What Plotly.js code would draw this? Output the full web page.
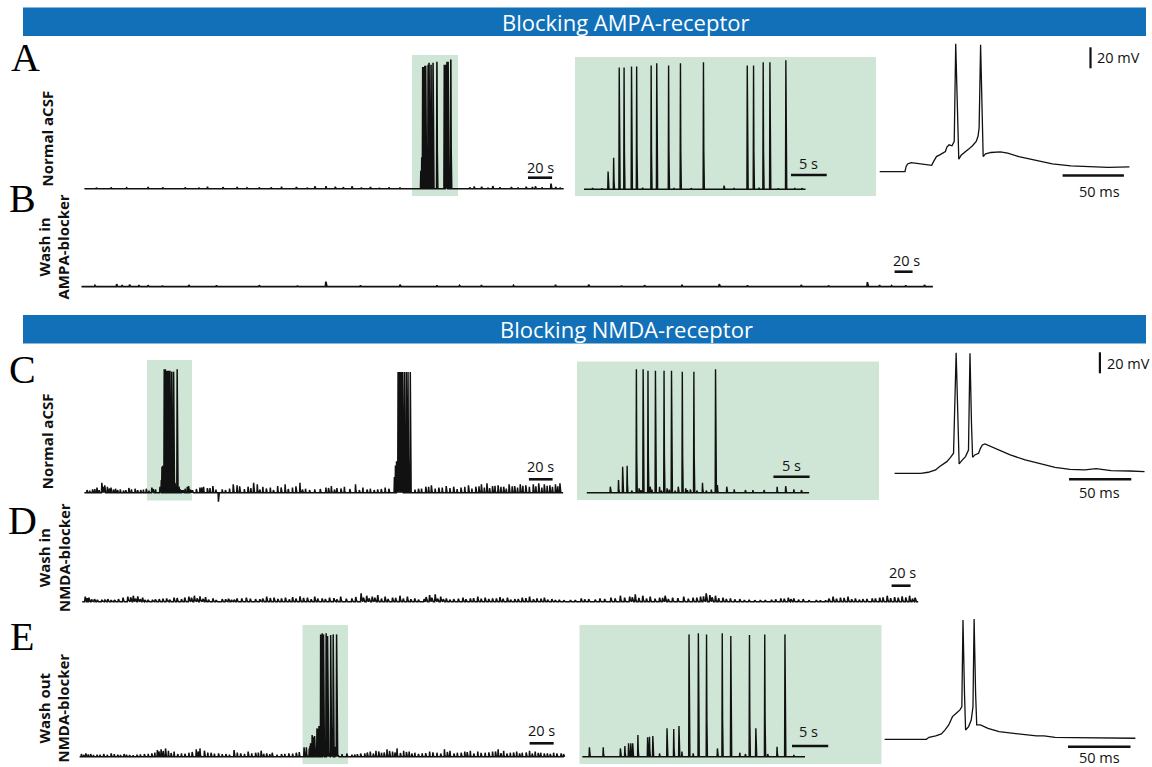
<!DOCTYPE html>
<html><head><meta charset="utf-8">
<script src="https://cdn.plot.ly/plotly-3.0.1.min.js"></script>
<style>html,body{margin:0;padding:0;background:#fff}#chart{width:1152px;height:767px}</style>
</head><body><div id="chart"></div>
<script>
// ---------- DATA (time in s or ms, deflection amplitude in mV from rest) ----------
const restMV = -65;
// A: normal aCSF, zoomed burst (inset, s) and amplitudes (mV)
const burstA_t = [3.37, 4.15, 4.93, 5.61, 6.65, 7.37, 9.40, 10.18, 11.84, 13.50, 16.72, 22.85, 23.73, 25.08, 26.02, 28.25];
const burstA_a = [17, 30, 116, 116, 117, 117, 118, 120, 118, 120, 121, 118, 118, 121, 121, 123];
const noiseAi_t = [1.2, 2.5, 8.2, 12.6, 15.0, 19.6, 21.0, 24.5, 27.2, 29.5, 30.5];
const noiseAi_a = [1.2, 1.0, 1.5, 1.2, 1.0, 3.5, 1.2, 1.5, 1.0, 1.2, 1.0];
const burstA_offset = 276;          // burst position in long recording (s)
const noiseA_t = [22.2, 52.9, 83.7, 102.2, 126.8, 145.2, 163.7, 176, 191.4, 200.6, 208.3, 222.2, 237.5, 252.9, 323.7, 329.8, 339.1, 354.5, 366.8, 374.5, 387.4, 391.4];
const noiseA_a = [1.3, 1.6, 1.3, 1.9, 1.6, 1.3, 1.9, 1.6, 2.2, 2.5, 1.9, 2.2, 1.6, 1.3, 2.2, 1.9, 2.5, 1.6, 1.9, 2.2, 4.8, 1.6];
const noiseA2_t = [10, 35, 65, 95, 115, 135, 155, 185, 215, 230, 245, 262, 320, 335, 345, 360, 372, 380, 395];
const noiseA2_a = [1.0, 0.8, 1.2, 1.0, 1.4, 0.8, 1.2, 1.0, 1.5, 1.2, 0.9, 1.1, 1.3, 1.0, 1.4, 1.2, 1.6, 1.3, 1.0];
const apA_t = [0, 20.6, 21.5, 22.7, 25.7, 30.3, 34.8, 42.4, 43.9, 46.3, 49.0, 51.5, 53.6, 54.8, 56.6, 59.0, 60.8, 62.0, 63.3, 64.5, 66.6, 69.6, 72.6, 75.7, 78.7, 80.2, 81.1, 82.3, 83.5, 84.4, 86.3, 90.8, 98.4, 104.4, 113.5, 125.6, 140.8, 155.9, 171.0, 186.2, 203.7];
const apA_v = [-65, -65, -60.2, -57.6, -56.3, -57, -57.9, -58.9, -55.4, -50.6, -49, -47.4, -45.8, -41.6, -39.4, -40.3, -36.1, 56.8, -2.5, -53.1, -49, -45.8, -43.5, -40.3, -36.1, -31.3, -23.3, 55.9, -2.5, -50.6, -48, -46.7, -46.1, -47.4, -50.6, -53.8, -57.6, -59.5, -60.5, -60.8, -60.5];
// B: wash in AMPA blocker
const noiseB_t = [39.1, 45.2, 53.4, 63.8, 74, 119.3, 197.5, 271.5, 353.9, 395, 444.4, 526.7, 563.5, 625.6, 667.2, 708.6, 799.7, 873.2, 886.8, 915.8, 936.6];
const noiseB_a = [2.5, 1.6, 1.9, 1.6, 1.3, 1.6, 1.3, 4.8, 1.9, 1.3, 1.6, 1.9, 1.9, 1.3, 1.9, 2.5, 1.6, 4.4, 1.6, 1.3, 1.6];
const noiseB2_t = [15, 90, 150, 240, 310, 420, 480, 600, 740, 830, 900];
const noiseB2_a = [1.2, 1.0, 1.3, 1.0, 1.4, 1.1, 1.2, 1.0, 1.3, 1.2, 1.0];
// C: normal aCSF (NMDA experiment)
const burstC_t = [3.25, 4.38, 4.95, 5.57, 6.2, 6.85, 7.22, 7.5, 7.78, 8.45, 8.76, 9.0, 9.48, 10.05, 10.3, 10.67, 11.08, 11.4, 11.70, 12.2, 12.63, 13.19, 13.66, 13.9, 14.3, 14.79, 15.2, 15.98, 16.5, 17.2, 17.78, 18.04, 19.33, 20.36, 21.9, 22.94, 24.48, 26.29, 27.47, 28.6, 29.64];
const burstC_a = [5.7, 12.1, 24.8, 25.7, 2, 117.5, 4.1, 2.5, 117.5, 116.2, 5.7, 3, 116.2, 5.7, 2, 116.2, 4.1, 3, 116.2, 2, 5.7, 115.3, 4.1, 2.5, 3, 115.3, 2, 9.5, 2, 3, 117.5, 7.3, 5.7, 3.2, 2.5, 2.5, 2.5, 5.7, 6.3, 3.2, 2.5];
const burstC_offset = 60.5;
const burst2C_t = [261.6, 262.5, 263.4, 264.7, 265.9, 267.2, 268.4, 270.0, 271.6, 273.1, 275.0];
const burst2C_a = [15, 26, 30, 115, 115, 115, 115, 115, 115, 115, 115];
const noiseC_t = [2.2, 6.9, 10.6, 14.7, 17.2, 19.4, 22.5, 26.3, 30.3, 35, 39.7, 42.8, 47.5, 52.2, 56.9, 60, 85, 91.3, 97.5, 100.6, 103.8, 108.4, 113.1, 116.3, 125.6, 128.8, 138.1, 142.8, 145.9, 150.6, 156.9, 163.1, 169.4, 175.6, 181.9, 186.6, 194.4, 203.8, 208.4, 213.1, 219.4, 228.8, 235, 241.3, 247.5, 253.8, 256.9, 281.9, 288.1, 292.8, 299.1, 305.3, 311.6, 317.8, 324.1, 330.3, 335, 339.7, 344.4, 349.1, 353.8, 358.4, 363.1, 367.8, 372.5, 378.8, 383.4, 388.1, 392.8, 397.5, 401.3];
const noiseC_a = [2.5, 3.2, 4.8, 9.5, 7, 5.7, 4.8, 3.8, 3.2, 2.5, 3.2, 3.8, 2.5, 3.8, 4.8, 3.2, 3.8, 2.5, 4.8, 5.7, 4.4, 6.3, -8.6, 3.2, 7.9, 7, 5.7, 9.5, 7.9, 5.7, 4.8, 6.3, 7.9, 4.8, 9.5, 3.8, 3.2, 4.8, 6.3, 4.4, 5.7, 7.9, 4.8, 3.8, 3.2, 4.8, 3.8, 3.8, 5.7, 7, 4.8, 6.3, 5.7, 4.8, 7, 5.7, 7.9, 8.9, 6.3, 7, 5.7, 7.9, 6.3, 7.9, 7, 7.9, 8.9, 7.9, 7, 7.9, 8.9];
const noiseC2_t = [4.5, 8.8, 12.5, 16, 21, 24.5, 28, 33, 37.5, 45, 49.8, 54.5, 58, 88, 94.5, 99, 106, 111, 119, 122.5, 131, 135, 140.5, 148, 153.5, 159.5, 166, 172, 178.5, 184, 190, 199, 206, 211, 216.5, 224, 232, 238.5, 244.5, 250.5, 279, 284.5, 290.5, 296, 302, 308.5, 314.5, 321, 327, 333, 337.5, 342, 346.5, 351.5, 356, 361, 365.5, 370, 375.5, 381, 386, 390.5, 395, 399.5];
const noiseC2_a = [2.0, 3.5, 2.5, 5.5, 4.0, 3.0, 2.5, 2.0, 4.5, 2.5, 3.0, 2.0, 3.5, 2.5, 3.5, 5.0, 4.5, 3.0, 2.5, 4.0, 6.0, 3.5, 4.5, 3.0, 4.0, 2.5, 5.0, 3.5, 6.0, 3.0, 2.5, 3.5, 4.5, 3.0, 4.0, 3.5, 2.5, 3.0, 2.5, 3.5, 3.0, 4.0, 5.5, 4.0, 5.0, 4.5, 3.5, 5.5, 4.0, 6.0, 5.0, 4.5, 6.5, 5.5, 4.0, 6.0, 5.0, 6.5, 5.5, 6.0, 5.0, 6.5, 5.5, 6.0];
const apC_t = [0, 21.0, 27.0, 32.9, 35.9, 38.9, 41.9, 44.9, 47.3, 49.4, 50.9, 51.8, 53.9, 56.9, 59.3, 60.5, 61.7, 62.6, 64.4, 67.4, 68.9, 70.4, 72.5, 76.4, 83.8, 92.8, 104.8, 116.8, 128.8, 140.7, 152.7, 161.7, 164.7, 173.7, 188.7, 200.6];
const apC_v = [-65, -65, -64.0, -61.8, -58.7, -56.1, -53.9, -49.8, -45.9, 49.9, -17.4, -56.1, -52.9, -49.1, -42.8, 49.3, -17.4, -49.8, -47.5, -45.9, -41.2, -38, -37.1, -39, -42.8, -47.5, -52.3, -56.1, -59.3, -61.2, -61.8, -60.6, -61.2, -62.5, -62.8, -63.4];
// D: wash in NMDA blocker
const noiseD_t = [3.2, 7.0, 12.9, 20.7, 30.4, 38.2, 48.0, 53.8, 58.5, 63.6, 69.4, 81.1, 88.9, 96.7, 104.5, 112.3, 118.1, 124.0, 129.8, 137.7, 147.4, 157.2, 163.0, 172.8, 182.5, 194.2, 202.0, 209.8, 221.5, 229.3, 237.1, 244.8, 252.6, 260.4, 272.1, 283.9, 293.6, 299.5, 305.3, 311.1, 318.9, 326.7, 334.5, 342.3, 350.1, 359.9, 365.7, 371.6, 377.4, 383.3, 391.1, 400.8, 408.6, 416.4, 424.2, 432.0, 439.8, 447.6, 455.4, 463.2, 470.9, 478.7, 486.5, 494.4, 502.2, 513.9, 525.3, 533.2, 545, 556.6, 566.5, 576.3, 582.2, 590.1, 597.9, 607.8, 613.6, 621.5, 633.2, 643.0, 650.9, 656.8, 660.7, 666.6, 674.5, 682.3, 692.2, 702, 713.8, 725.6, 735.4, 743.3, 749.1, 758.9, 772.7, 782.5, 790.4, 798.2, 806.1, 813.9, 821.8, 831.6, 839.5, 847.4, 855.2, 863.1, 870.9, 876.7];
const noiseD_a = [4.8, 3.8, 2.5, 1.9, 1.6, 2.5, 4.8, 5.7, 5.1, 3.8, 1.9, 2.5, 3.2, 3.8, 2.5, 4.8, 5.7, 5.1, 4.4, 3.2, 2.5, 1.9, 3.2, 3.8, 2.5, 4.8, 3.8, 3.2, 4.4, 5.1, 3.8, 4.8, 3.2, 3.8, 4.8, 3.2, 7.9, 5.7, 4.8, 6.3, 4.8, 3.8, 5.7, 4.8, 3.2, 2.5, 6.3, 7, 4.8, 3.2, 2.5, 3.8, 3.2, 4.8, 3.8, 3.2, 4.4, 3.8, 2.5, 3.8, 4.8, 3.2, 3.8, 2.5, 1.9, 1.6, 3.2, 2.5, 3.2, 3.8, 5.7, 4.8, 7, 5.7, 4.8, 3.8, 5.7, 3.8, 4.8, 3.8, 4.8, 7.9, 6.3, 5.7, 3.8, 3.2, 2.5, 1.9, 1.6, 1.9, 3.2, 3.8, 3.2, 2.5, 1.6, 1.3, 4.8, 3.8, 4.8, 3.2, 2.5, 3.2, 3.8, 5.7, 4.4, 5.1, 5.7, 3.8];
const noiseD2_t = [5.5, 10, 16, 24, 27, 34, 43, 51, 56, 61, 66, 74, 77, 85, 92, 100, 108, 115, 121, 127, 133, 141, 151, 154, 160, 168, 177, 187, 190, 198, 206, 214, 218, 225, 233, 241, 248, 256, 265, 268, 278, 288, 296, 302, 308, 315, 322, 330, 338, 346, 354, 362, 368, 374, 380, 387, 396, 404, 412, 420, 428, 436, 443, 451, 459, 467, 475, 483, 490, 498, 507, 519, 529, 540, 550, 561, 571, 579, 586, 594, 603, 611, 617, 627, 638, 647, 654, 663, 670, 678, 687, 697, 708, 719, 730, 739, 746, 754, 765, 777, 786, 794, 802, 810, 818, 826, 835, 843, 851, 859, 867, 874];
const noiseD2_a = [3.5, 2.2, 1.8, 1.5, 2.5, 1.6, 3.8, 4.2, 3.0, 2.4, 1.6, 1.8, 2.2, 2.8, 2.0, 3.5, 4.0, 3.8, 3.2, 2.6, 2.0, 1.6, 2.4, 2.8, 2.0, 3.2, 2.8, 2.4, 3.0, 3.5, 2.6, 3.8, 2.2, 3.0, 3.6, 2.4, 3.0, 2.6, 3.4, 2.2, 2.8, 4.5, 4.0, 3.2, 3.8, 3.0, 2.6, 3.6, 3.0, 2.4, 2.0, 4.5, 3.8, 3.0, 2.4, 2.0, 2.8, 2.4, 3.4, 2.8, 2.6, 3.2, 2.8, 2.0, 2.6, 3.4, 2.4, 2.8, 2.0, 1.6, 1.4, 1.6, 2.2, 2.0, 2.6, 3.2, 3.8, 4.2, 3.6, 3.0, 2.8, 3.6, 2.6, 3.4, 2.8, 3.8, 5.0, 4.2, 3.4, 2.6, 2.2, 1.6, 1.4, 1.6, 2.2, 2.8, 2.4, 2.0, 1.4, 1.2, 3.0, 2.8, 3.6, 2.4, 2.0, 2.6, 3.2, 4.2, 3.4, 3.8, 4.2, 3.0];
// E: wash out NMDA blocker
const burstE_t = [0.98, 2.89, 5.26, 5.88, 6.39, 6.70, 6.96, 7.68, 9.02, 9.28, 9.74, 10.67, 11.70, 12.63, 13.35, 13.76, 14.74, 15.31, 16.03, 17.16, 18.66, 19.33, 20.51, 21.75, 22.52, 23.09, 23.97, 25.2, 25.6, 26.9, 27.99, 29.22];
const burstE_a = [8.9, 8.9, 7.9, 10.2, 12.7, 12.7, 12.7, 20.6, 18.4, 19.1, 19.7, 3.2, 27.0, 26.4, 29.2, 4.8, 116.5, 3.2, 117.5, 116.5, 7.9, 117.5, 114.9, 3.8, 2.5, 115.9, 27.0, 116.5, 2.5, 9.5, 116.5, 1.6];
const burstE_offset = 185.5;
const noiseE_t = [1.5, 5.2, 9.2, 14.5, 20, 26.2, 31.7, 36.9, 41.5, 47.7, 53.8, 60, 64.6, 67.7, 71.4, 73.8, 78.5, 84.6, 90.8, 96.9, 100, 103.7, 109.2, 115.4, 121.5, 128.3, 133.8, 140, 146.2, 150.8, 155.4, 160, 167.7, 173.8, 180, 226.2, 230.8, 236.9, 241.5, 246.2, 250.8, 255.4, 260, 263.7, 269.2, 273.8, 278.5, 284.6, 290.8, 296.9, 303.1, 307.7, 313.8, 320, 324.6, 330.8, 336.9, 343.1, 347.7, 352.3, 357.8, 363.1, 367.7, 373.8, 378.5, 383.1, 388.6, 393.8, 400];
const noiseE_a = [2.5, 3.2, 2.5, 1.9, 2.5, 3.2, 1.9, 2.5, 1.6, 1.9, 2.5, 3.2, 6.3, 7, 7.9, 5.7, 4.8, 3.2, 3.8, 7, 7.9, 5.7, 3.8, 3.2, 2.5, 6.3, 3.2, 4.8, 3.8, 5.7, 3.2, 3.8, 2.5, 3.2, 3.8, 1.9, 2.5, 3.2, 4.8, 5.7, 3.8, 7, 4.8, 7.9, 5.7, 4.8, 3.8, 3.2, 4.8, 3.8, 7, 5.7, 3.8, 4.8, 5.7, 4.8, 3.8, 4.8, 7, 5.7, 3.8, 4.8, 3.8, 5.7, 4.8, 3.8, 3.2, 3.8, 3.2];
const noiseE2_t = [3.5, 7.2, 11.5, 17, 23, 28.8, 34, 39, 44.5, 50.5, 57, 62.5, 66, 69.5, 76, 81.5, 87.5, 93.5, 98.5, 106.5, 112, 118.5, 124.5, 131, 137, 143, 148.5, 153, 158, 164, 170.5, 177, 182.5, 218, 222, 228.5, 233.5, 239, 244, 248.5, 253, 257.5, 262, 266.5, 271.5, 276, 281.5, 287.5, 293.5, 300, 305.5, 311, 317, 322, 327.5, 333.5, 340, 345.5, 350, 355, 360.5, 365.5, 371, 376, 381, 386, 391, 396.5, 402];
const noiseE2_a = [1.8, 2.2, 1.6, 2.0, 1.8, 2.4, 1.6, 2.0, 1.4, 2.2, 2.6, 4.0, 5.0, 5.5, 3.5, 2.5, 2.8, 4.5, 5.0, 4.0, 3.0, 2.4, 2.0, 4.0, 2.6, 3.2, 4.0, 2.8, 2.4, 2.0, 2.6, 3.0, 4.5, 2.4, 3.0, 2.0, 3.0, 4.0, 3.0, 5.0, 4.0, 5.5, 4.0, 3.5, 4.5, 3.0, 2.6, 3.4, 4.2, 3.0, 4.5, 3.0, 3.8, 4.4, 3.0, 3.6, 4.2, 5.0, 3.4, 3.0, 4.0, 3.2, 4.0, 3.0, 3.6, 3.0, 2.6, 3.0, 2.4];
const apE_t = [0, 33.4, 35.5, 40.9, 45.4, 48.4, 51.3, 54.3, 57.3, 60.3, 61.8, 62.7, 63.9, 64.8, 67.2, 69.3, 70.7, 71.6, 72.8, 73.7, 76.7, 82.7, 91.6, 106.6, 121.5, 127.5, 136.4, 151.3, 166.3, 181.2, 200.6];
const apE_v = [-65, -65, -63.1, -61.8, -59.9, -56.1, -51.3, -43.4, -40.2, -37.0, -33.9, 48.7, -21.2, -56.1, -52.9, -46.6, -33.9, 49.6, -21.2, -51.3, -51.3, -54.5, -57.7, -59.9, -61.8, -61.8, -63.1, -63.4, -63.7, -63.7, -64];
// recording lengths
const durA = 398, durAi = 31, durB = 946, durC = 404, durCi = 30.7, durD = 880, durE = 403, durEi = 30.76;
// text
const bannerTexts = ["Blocking AMPA-receptor", "Blocking NMDA-receptor"];
const panelLetters = ["A", "B", "C", "D", "E"];
const rowLabels = ["Normal aCSF", "Wash in<br>AMPA-blocker", "Normal aCSF", "Wash in<br>NMDA-blocker", "Wash out<br>NMDA-blocker"];

// ---------- LAYOUT HELPERS ----------
const W = 1152, H = 767, PX_PER_MV = 1.05;
const PX = v => v / W, PY = v => 1 - v / H;
const P = [
  null,
  {start: 84.4, ppx: 1.2043, xd: [78, 572], yd: [38, 206], base: 188.7},
  {start: 584, ppx: 7.145, xd: [576, 875], yd: [40, 200], base: 189.3},
  {start: 879.7, ppx: 1.226, xd: [876, 1150], yd: [36, 200], base: 171.7},
  {start: 81.5, ppx: 0.9, xd: [76, 940], yd: [210, 300], base: 286.7},
  {start: 84.4, ppx: 1.185, xd: [78, 572], yd: [345, 505], base: 492.7},
  {start: 586.8, ppx: 7.24, xd: [578, 878], yd: [350, 505], base: 492.7},
  {start: 894.6, ppx: 1.246, xd: [888, 1150], yd: [345, 500], base: 473.3},
  {start: 82.2, ppx: 0.95, xd: [76, 925], yd: [520, 612], base: 601.7},
  {start: 79.6, ppx: 1.2037, xd: [74, 570], yd: [620, 766], base: 756.7},
  {start: 582.3, ppx: 7.24, xd: [579, 880], yd: [615, 766], base: 756.7},
  {start: 884.6, ppx: 1.25, xd: [880, 1150], yd: [605, 766], base: 739.3}
];
const ax = n => n === 1 ? "" : String(n);
const layout = {
  width: W, height: H, margin: {l: 0, r: 0, t: 0, b: 0},
  paper_bgcolor: "#ffffff", plot_bgcolor: "rgba(0,0,0,0)", showlegend: false,
  shapes: [], annotations: []
};
for (let n = 1; n < P.length; n++) {
  const p = P[n];
  layout["xaxis" + ax(n)] = {domain: [PX(p.xd[0]), PX(p.xd[1])], range: [(p.xd[0] - p.start) / p.ppx, (p.xd[1] - p.start) / p.ppx], visible: false, fixedrange: true};
  layout["yaxis" + ax(n)] = {domain: [PY(p.yd[1]), PY(p.yd[0])], range: [restMV - (p.yd[1] - p.base) / PX_PER_MV, restMV + (p.base - p.yd[0]) / PX_PER_MV], visible: false, fixedrange: true};
}
// each recorded event drawn as a sharp rise and quick decay back to rest
function eventTrace(dur, lists, w) {
  let ev = [];
  lists.forEach(([T, A, off]) => T.forEach((t, i) => { if (A[i] !== undefined) ev.push([t + (off || 0), A[i]]); }));
  ev.sort((a, b) => a[0] - b[0]);
  const x = [0], y = [restMV];
  ev.forEach(([t, a]) => {
    x.push(t - w, t, t + w, t + 2.5 * w);
    y.push(restMV, restMV + a, restMV + 0.3 * a, restMV);
  });
  x.push(dur); y.push(restMV);
  return {x, y};
}
const traces = [];
function addTrace(n, d, lw) {
  traces.push({type: "scatter", mode: "lines", x: d.x, y: d.y, xaxis: "x" + ax(n), yaxis: "y" + ax(n),
    line: {color: "#111111", width: lw || 1.4}, hoverinfo: "skip", showlegend: false});
}
addTrace(1, eventTrace(durA, [[burstA_t, burstA_a, burstA_offset], [noiseA_t, noiseA_a], [noiseA2_t, noiseA2_a]], 0.3), 1.6);
addTrace(2, eventTrace(durAi, [[burstA_t, burstA_a], [noiseAi_t, noiseAi_a]], 0.05), 1.4);
addTrace(3, {x: apA_t, y: apA_v}, 1.3);
addTrace(4, eventTrace(durB, [[noiseB_t, noiseB_a], [noiseB2_t, noiseB2_a]], 0.5), 1.7);
addTrace(5, eventTrace(durC, [[burstC_t, burstC_a, burstC_offset], [burst2C_t, burst2C_a], [noiseC_t, noiseC_a], [noiseC2_t, noiseC2_a]], 0.3), 1.5);
addTrace(6, eventTrace(durCi, [[burstC_t, burstC_a]], 0.05), 1.4);
addTrace(7, {x: apC_t, y: apC_v}, 1.3);
addTrace(8, eventTrace(durD, [[noiseD_t, noiseD_a], [noiseD2_t, noiseD2_a]], 0.6), 1.6);
addTrace(9, eventTrace(durE, [[burstE_t, burstE_a, burstE_offset], [noiseE_t, noiseE_a], [noiseE2_t, noiseE2_a]], 0.3), 1.5);
addTrace(10, eventTrace(durEi, [[burstE_t, burstE_a]], 0.05), 1.4);
addTrace(11, {x: apE_t, y: apE_v}, 1.3);

// banners
const BLUE = "#1170b8", GREEN = "#cfe6d6";
[[7.5, 36], [315, 343.5]].forEach((b, i) => {
  layout.shapes.push({type: "rect", xref: "paper", yref: "paper", x0: PX(23), x1: PX(1146), y0: PY(b[1]), y1: PY(b[0]), fillcolor: BLUE, line: {width: 0}, layer: "below"});
  layout.annotations.push({text: bannerTexts[i], xref: "paper", yref: "paper", x: PX(626), y: PY((b[0] + b[1]) / 2), xanchor: "center", yanchor: "middle", showarrow: false, font: {family: "Open Sans", size: 22, color: "#ffffff"}});
});
// green highlight boxes (px)
[[412, 458, 55, 196], [575, 876, 57, 196], [147, 192, 360, 500.5], [577, 879, 361.5, 500], [302.5, 348, 625, 764], [579.5, 881.5, 625, 764]].forEach(r => {
  layout.shapes.push({type: "rect", xref: "paper", yref: "paper", x0: PX(r[0]), x1: PX(r[1]), y0: PY(r[3]), y1: PY(r[2]), fillcolor: GREEN, line: {width: 0}, layer: "below"});
});
// horizontal time scale bars: panel, left px, y px, length (s or ms), label, label x/y px
const bars = [
  [1, 528, 177.7, 20, "20 s", 540.7, 167], [2, 791, 175, 5, "5 s", 808.8, 163.5], [3, 1062.6, 175.5, 50, "50 ms", 1099.9, 191],
  [4, 894.6, 271.7, 20, "20 s", 906, 260], [5, 528.9, 479.3, 20, "20 s", 540.7, 466.5], [6, 773.4, 476.7, 5, "5 s", 791.3, 465.5],
  [7, 1069, 479.3, 50, "50 ms", 1099.9, 492.5], [8, 891.6, 585.7, 20, "20 s", 902.8, 572.5], [9, 529.6, 743.3, 20, "20 s", 541.5, 730.5],
  [10, 792, 746, 5, "5 s", 808.8, 731.5], [11, 1068, 746.7, 50, "50 ms", 1099.9, 757.5]
];
bars.forEach(b => {
  const p = P[b[0]], t0 = (b[1] - p.start) / p.ppx;
  layout.shapes.push({type: "line", xref: "x" + ax(b[0]), yref: "paper", x0: t0, x1: t0 + b[3], y0: PY(b[2]), y1: PY(b[2]), line: {color: "#111", width: 2.6}});
  layout.annotations.push({text: b[4], xref: "paper", yref: "paper", x: PX(b[5]), y: PY(b[6]), xanchor: "center", yanchor: "middle", showarrow: false, font: {family: "Open Sans", size: 14.5, color: "#111"}});
});
// vertical 20 mV bars: panel, x px, bottom px, label left px, label y px
[[3, 1090.5, 68.3, 1095, 57.5], [7, 1099.9, 373.3, 1104.5, 363]].forEach(v => {
  const p = P[v[0]], t = (v[1] - p.start) / p.ppx, y0 = restMV + (p.base - v[2]) / PX_PER_MV;
  layout.shapes.push({type: "line", xref: "x" + ax(v[0]), yref: "y" + ax(v[0]), x0: t, x1: t, y0: y0, y1: y0 + 20, line: {color: "#111", width: 2.2}});
  layout.annotations.push({text: "20 mV", xref: "paper", yref: "paper", x: PX(v[3]), y: PY(v[4]), xanchor: "left", yanchor: "middle", showarrow: false, font: {family: "Open Sans", size: 14.5, color: "#111"}});
});
// panel letters
[[25, 57], [22, 198], [22, 369], [22, 520], [22, 636]].forEach((q, i) => {
  layout.annotations.push({text: panelLetters[i], xref: "paper", yref: "paper", x: PX(q[0]), y: PY(q[1]), xanchor: "center", yanchor: "middle", showarrow: false, font: {family: "Liberation Serif", size: 40, color: "#000"}});
});
// row labels (rotated)
[[47.2, 138.3], [53.5, 247], [47.2, 441], [53.5, 557.5], [53.5, 708]].forEach((q, i) => {
  layout.annotations.push({text: "<b>" + rowLabels[i].replace("<br>", "</b><br><b>") + "</b>", xref: "paper", yref: "paper", x: PX(q[0]), y: PY(q[1]), xanchor: "center", yanchor: "middle", textangle: -90, showarrow: false, font: {family: "Open Sans", size: 15, color: "#111"}});
});
Plotly.newPlot("chart", traces, layout, {staticPlot: true, displayModeBar: false});
</script></body></html>
